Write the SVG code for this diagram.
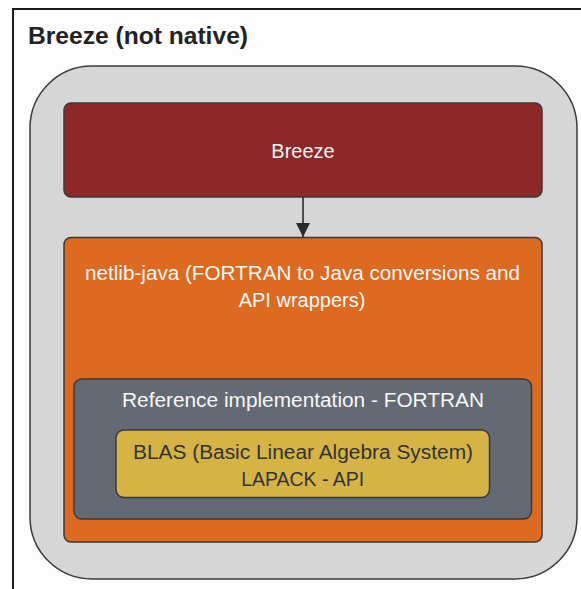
<svg xmlns="http://www.w3.org/2000/svg" width="581" height="589" viewBox="0 0 581 589">
  <style>
    .box { stroke: #3a3a3a; stroke-width: 1.5; }
    .lbl { font-family: "Liberation Sans", Arial, sans-serif; font-size: 20px; text-anchor: middle; }
    .light { fill: #f7f7f7; }
    .dark { fill: #333333; }
    .title { font-family: "Liberation Sans", Arial, sans-serif; font-size: 24px; font-weight: bold; fill: #222222; }
  </style>
  <defs>
    <marker id="arrowhead" viewBox="0 0 14 14" refX="14" refY="7" markerWidth="14" markerHeight="14" markerUnits="userSpaceOnUse" orient="auto">
      <path d="M0,0 L14,7 L0,14 Z" fill="#2a2a2a"/>
    </marker>
  </defs>

  <rect x="0" y="0" width="581" height="589" fill="#ffffff"/>

  <!-- outer frame, runs past the right and bottom edges -->
  <g id="frame">
    <rect x="13" y="9" width="590" height="600" fill="#fdfdfd" stroke="#1a1a1a" stroke-width="2"/>
    <text class="title" x="28" y="43.5" textLength="220" lengthAdjust="spacingAndGlyphs">Breeze (not native)</text>
  </g>

  <g id="container">
    <rect class="box" x="30" y="66" width="547" height="513" rx="62" ry="62" fill="#d6d6d6"/>
  </g>

  <g id="breeze">
    <rect class="box" x="64" y="103" width="478" height="94" rx="7" ry="7" fill="#8e2727"/>
    <text class="lbl light" x="303" y="157.5">Breeze</text>
  </g>

  <g id="netlib-java">
    <rect class="box" x="64" y="237.5" width="478" height="304.5" rx="7" ry="7" fill="#dc6a20"/>
    <text class="lbl light" x="302.5" y="280" textLength="435" lengthAdjust="spacingAndGlyphs">netlib-java (FORTRAN to Java conversions and</text>
    <text class="lbl light" x="302" y="306.5">API wrappers)</text>
  </g>

  <g id="reference-impl">
    <rect class="box" x="74" y="379" width="457.5" height="140" rx="8" ry="8" fill="#636a74"/>
    <text class="lbl light" x="303" y="406.5" textLength="362" lengthAdjust="spacingAndGlyphs">Reference implementation - FORTRAN</text>
  </g>

  <g id="blas-lapack">
    <rect class="box" x="116" y="430" width="373.5" height="67.5" rx="8" ry="8" fill="#d5b345"/>
    <text class="lbl dark" x="303" y="458.5" textLength="340" lengthAdjust="spacingAndGlyphs">BLAS (Basic Linear Algebra System)</text>
    <text class="lbl dark" x="302.7" y="486" textLength="123" lengthAdjust="spacingAndGlyphs">LAPACK - API</text>
  </g>

  <g id="connectors">
    <line x1="303" y1="197" x2="303" y2="237" stroke="#2a2a2a" stroke-width="1.6" marker-end="url(#arrowhead)"/>
  </g>
</svg>
